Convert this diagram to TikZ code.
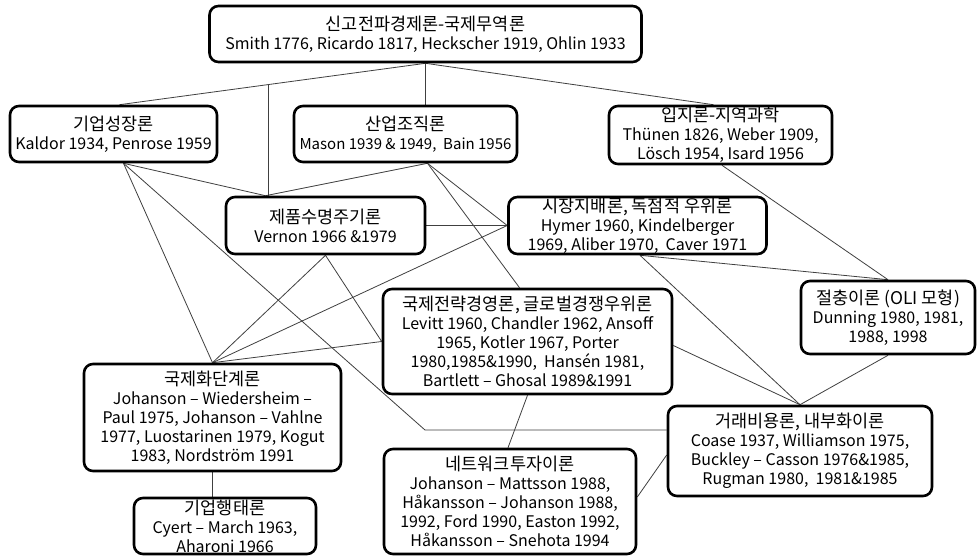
\documentclass[tikz,border=0pt]{standalone}
\usepackage{fontspec}
\setmainfont{Noto Sans CJK KR}
\usetikzlibrary{backgrounds,calc}
\newcommand\kt[1]{{\fontsize{17.5}{19}\selectfont #1}}
\tikzset{
  theory/.style={draw=black, line width=2.6pt, rounded corners=9pt, fill=white, align=center, inner sep=0pt, font=\fontsize{16}{19}\selectfont},
  link/.style={draw=black!75, line width=0.8pt},
}
\begin{document}
\begin{tikzpicture}[x=1pt,y=-1pt]
\useasboundingbox (0,0) rectangle (978,560);
\node[theory, minimum width=432, minimum height=56] (neo) at (425.5,34) {\kt{신고전파경제론-국제무역론}\\Smith 1776, Ricardo 1817, Heckscher 1919, Ohlin 1933};
\node[theory, minimum width=207, minimum height=56] (growth) at (113.5,134) {\kt{기업성장론}\\Kaldor 1934, Penrose 1959};
\node[theory, minimum width=223, minimum height=56] (indorg) at (405.5,134) {\kt{산업조직론}\\{\fontsize{15}{19}\selectfont Mason 1939 \& 1949,\ \ Bain 1956}};
\node[theory, minimum width=223, minimum height=58] (loc) at (720.5,135) {\kt{입지론-지역과학}\\Thünen 1826, Weber 1909,\\Lösch 1954, Isard 1956};
\node[theory, minimum width=199, minimum height=57] (plc) at (325.5,225.5) {\kt{제품수명주기론}\\Vernon 1966 \&1979};
\node[theory, minimum width=258, minimum height=57] (mkt) at (637.5,225.5) {\kt{시장지배론, 독점적 우위론}\\Hymer 1960, Kindelberger\\1969, Aliber 1970,\ \ Caver 1971};
\node[theory, minimum width=174, minimum height=73] (ecl) at (888,317.5) {\kt{절충이론 (OLI 모형)}\\Dunning 1980, 1981,\\1988, 1998};
\node[theory, minimum width=289, minimum height=105] (strat) at (527.5,341.5) {\kt{국제전략경영론, 글로벌경쟁우위론}\\Levitt 1960, Chandler 1962, Ansoff\\1965, Kotler 1967, Porter\\1980,1985\&1990,\ \ Hansén 1981,\\Bartlett – Ghosal 1989\&1991};
\node[theory, minimum width=257, minimum height=107] (stage) at (212.5,417.5) {\kt{국제화단계론}\\Johanson – Wiedersheim –\\Paul 1975, Johanson – Vahlne\\1977, Luostarinen 1979, Kogut\\1983, Nordström 1991};
\node[theory, minimum width=264, minimum height=90] (trans) at (800,451) {\kt{거래비용론, 내부화이론}\\Coase 1937, Williamson 1975,\\Buckley – Casson 1976\&1985,\\Rugman 1980,\ \ 1981\&1985};
\node[theory, minimum width=252, minimum height=105] (net) at (510,501.5) {\kt{네트워크투자이론}\\Johanson – Mattsson 1988,\\Håkansson – Johanson 1988,\\1992, Ford 1990, Easton 1992,\\Håkansson – Snehota 1994};
\node[theory, minimum width=182, minimum height=56] (behav) at (225,526) {\kt{기업행태론}\\Cyert – March 1963,\\Aharoni 1966};
\begin{scope}[on background layer]
\fill[white] (0,0) rectangle (978,560);
\coordinate (gtop) at ([xshift=6pt]growth.north);
\coordinate (br) at ($(neo.south)!0.515!(gtop)$);
\coordinate (gb) at ([xshift=10pt]growth.south);
\coordinate (pt) at ([xshift=-60pt]plc.north);
\coordinate (ib) at ([xshift=22pt]indorg.south);
\coordinate (mb) at ([xshift=2.5pt]mkt.south);
\coordinate (bend) at (425,430);
\draw[link] (neo.south) -- (gtop);
\draw[link] (br) -- (br |- plc.north);
\draw[link] (neo.south) -- (neo.south |- indorg.north);
\draw[link] (neo.south) -- ([xshift=-7pt]loc.north);
\draw[link] (gb) -- (pt);
\draw[link] (gb) -- (stage.north);
\draw[link] (gb) -- (bend) -- (bend -| trans.west);
\draw[link] (ib) -- (pt);
\draw[link] (ib) -- (mkt.west);
\draw[link] (ib) -- ([xshift=-8pt]strat.north);
\draw[link] (plc.east) -- (mkt.west);
\draw[link] (plc.south) -- (stage.north);
\draw[link] (plc.south) -- (strat.west);
\draw[link] (strat.west) -- (stage.north);
\draw[link] (mkt.west) -- (stage.north);
\draw[link] (mb) -- (trans.north);
\draw[link] (mb) -- (ecl.north);
\draw[link] ([xshift=1.5pt]loc.south) -- (ecl.north);
\draw[link] ([yshift=-4pt]strat.east) -- (trans.north);
\draw[link] (strat.south) -- ([xshift=-2pt]net.north);
\draw[link] (ecl.south) -- (trans.north);
\draw[link] ([yshift=4.5pt]net.east) -- ([yshift=-4pt]trans.west);
\draw[link] (stage.south) -- (stage.south |- behav.north);
\end{scope}
\end{tikzpicture}
\end{document}
